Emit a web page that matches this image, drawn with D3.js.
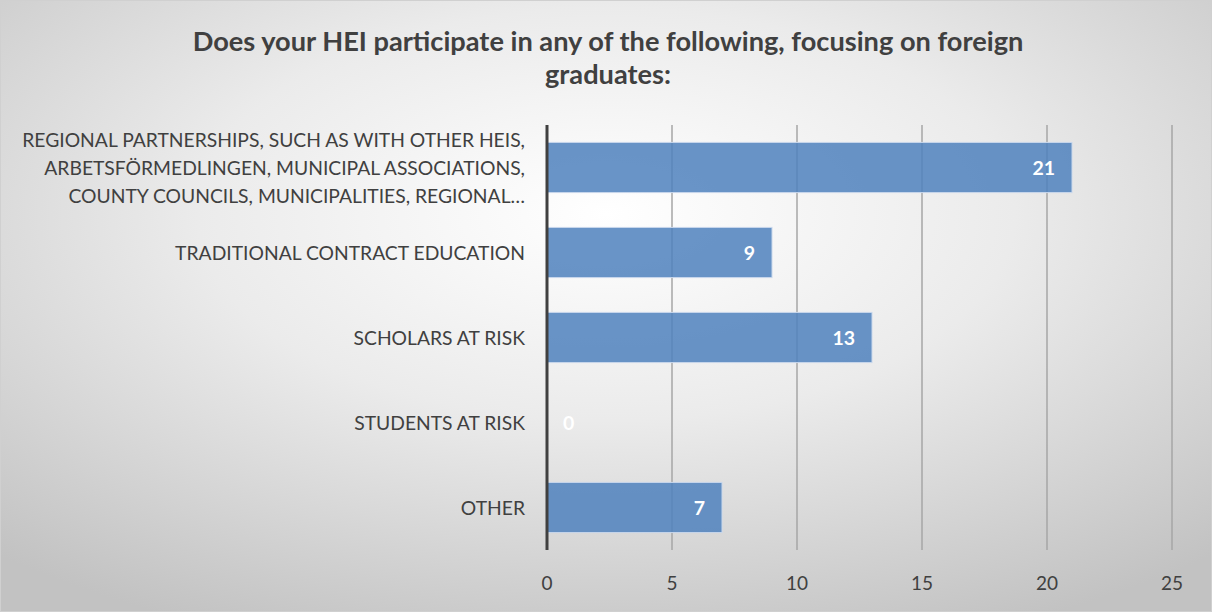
<!DOCTYPE html>
<html><head><meta charset="utf-8">
<script src="https://cdn.jsdelivr.net/npm/d3@7"></script>
<style>body{margin:0;background:#fff}svg{display:block}</style>
</head><body>
<script>
const categories = [
  ["REGIONAL PARTNERSHIPS, SUCH AS WITH OTHER HEIS,", "ARBETSFÖRMEDLINGEN, MUNICIPAL ASSOCIATIONS,", "COUNTY COUNCILS, MUNICIPALITIES, REGIONAL…"],
  ["TRADITIONAL CONTRACT EDUCATION"],
  ["SCHOLARS AT RISK"],
  ["STUDENTS AT RISK"],
  ["OTHER"]
];
const values = [21, 9, 13, 0, 7];
const xTicks = [0, 5, 10, 15, 20, 25];
const titleLines = ["Does your HEI participate in any of the following, focusing on foreign", "graduates:"];

const W = 1212, H = 612;
const svg = d3.select("body").append("svg").attr("width", W).attr("height", H);
const defs = svg.append("defs");
const g = defs.append("radialGradient").attr("id","bg").attr("cx","50%").attr("cy","35%").attr("r","75%")
  .attr("gradientUnits","objectBoundingBox");
g.append("stop").attr("offset","0%").attr("stop-color","#ffffff");
g.append("stop").attr("offset","45%").attr("stop-color","#ebebeb");
g.append("stop").attr("offset","100%").attr("stop-color","#c2c2c2");
svg.append("rect").attr("x",0.5).attr("y",0.5).attr("width",W-1).attr("height",H-1)
  .attr("fill","url(#bg)").attr("stroke","#d0d0d0");

const font = "Lato, 'Open Sans', sans-serif";
svg.selectAll("text.title").data(titleLines).join("text")
  .attr("x", 608).attr("y",(d,i)=>51+i*33).attr("text-anchor","middle")
  .attr("font-family",font).attr("font-weight","bold").attr("font-size",27.2).attr("fill","#404040").text(d=>d);

const x = d3.scaleLinear().domain([0,25]).range([547,1172]);
const y = d3.scaleBand().domain(d3.range(values.length)).range([125,550]).paddingInner(0.41).paddingOuter(0.205);

// grid
svg.selectAll("line.grid").data(xTicks.slice(1)).join("line")
  .attr("x1",d=>x(d)).attr("x2",d=>x(d)).attr("y1",125).attr("y2",550)
  .attr("stroke","#a6a6a6").attr("stroke-width",1.5);

// bars
svg.selectAll("rect.bar").data(values).join("rect")
  .attr("x",x(0)).attr("y",(d,i)=>y(i)).attr("width",d=>x(d)-x(0)).attr("height",y.bandwidth())
  .attr("fill","#4f81bd").attr("fill-opacity",0.85).attr("stroke","#c9d8ec").attr("stroke-width",1)
  .style("display",d=>d===0?"none":null);

// axis line
svg.append("line").attr("x1",547).attr("x2",547).attr("y1",125).attr("y2",550)
  .attr("stroke","#404040").attr("stroke-width",3);

// value labels
svg.selectAll("text.val").data(values).join("text")
  .attr("x",d=>d===0?x(0)+16:x(d)-17).attr("y",(d,i)=>y(i)+y.bandwidth()/2+7)
  .attr("text-anchor",d=>d===0?"start":"end")
  .attr("font-family",font).attr("font-weight","bold").attr("font-size",19.5).attr("fill","#ffffff").text(d=>d);

// category labels
categories.forEach((lines,i)=>{
  const cy = y(i)+y.bandwidth()/2;
  lines.forEach((t,j)=>{
    svg.append("text").attr("x",525).attr("y",cy+(j-(lines.length-1)/2)*28+7)
      .attr("text-anchor","end").attr("font-family",font).attr("font-size",19.3).attr("fill","#404040").text(t);
  });
});

// tick labels
svg.selectAll("text.tick").data(xTicks).join("text")
  .attr("x",d=>x(d)).attr("y",590).attr("text-anchor","middle")
  .attr("font-family",font).attr("font-size",19).attr("fill","#404040").text(d=>d);
</script>
</body></html>
